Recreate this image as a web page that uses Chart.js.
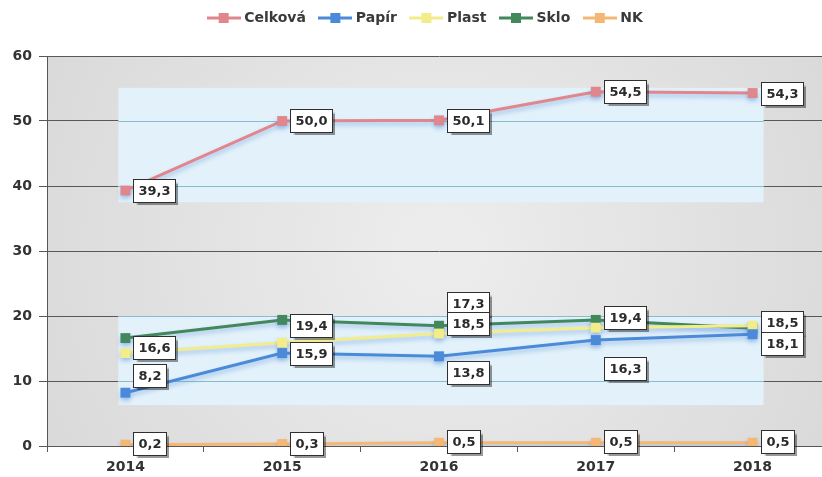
<!DOCTYPE html>
<html><head><meta charset="utf-8">
<script src="https://cdn.jsdelivr.net/npm/chart.js@4/dist/chart.umd.min.js"></script>
<style>
html,body{margin:0;padding:0;background:#fff;overflow:hidden;width:822px;height:477px}
#wrap{width:850px;height:477px;position:relative}
</style></head>
<body><div id="wrap"><canvas id="c" width="850" height="477"></canvas></div>
<script>
// ---- data ----
const years   = ['2014','2015','2016','2017','2018'];
const celkova = [39.3, 50.0, 50.1, 54.5, 54.3];
const papir   = [8.2, 14.3, 13.8, 16.3, 17.2];
const plast   = [14.3, 15.9, 17.3, 18.2, 18.5];
const sklo    = [16.6, 19.4, 18.5, 19.4, 18.1];
const nk      = [0.2, 0.3, 0.5, 0.5, 0.5];
const yTicks  = [0, 10, 20, 30, 40, 50, 60];
const seriesNames = ['Celková', 'Papír', 'Plast', 'Sklo', 'NK'];
// highlighted value ranges (decorative bands)
const bandRanges = [[37.5, 55.1], [6.3, 20]];

// ---- style ----
const colors = ['#e0868c', '#4a8ad8', '#f3ec8a', '#43875d', '#f5b874'];
const FONT = '"DejaVu Sans", sans-serif';
const GRID = '#5e5656';
// label vertical offsets in px (null = label hidden)
const labelDy = [
  [0, 0, 0, 0, 0],
  [-17, null, 16, 28, null],
  [null, 11, -30, null, -3],
  [9, 6, -2, -2, 15],
  [-1, -1, -1, -1, -1]
];
const labelOrder = [0, 1, 2, 3, 4];
const bandX = [-0.045, 4.07];

function legendIcon(color) {
  const c = document.createElement('canvas');
  c.width = 34; c.height = 12;
  const g = c.getContext('2d');
  g.strokeStyle = color; g.lineWidth = 3;
  g.beginPath(); g.moveTo(0, 6); g.lineTo(34, 6); g.stroke();
  g.fillStyle = color; g.fillRect(12, 1, 10, 10);
  return c;
}
const icons = colors.map(legendIcon);

const seriesValues = [celkova, papir, plast, sklo, nk];
const datasets = seriesValues.map((vals, i) => ({
  label: seriesNames[i],
  data: vals,
  borderColor: colors[i],
  backgroundColor: colors[i],
  pointBackgroundColor: colors[i],
  pointBorderColor: colors[i],
  pointBorderWidth: 0,
  borderWidth: 3,
  pointStyle: 'rect',
  pointRadius: 7,
  pointHoverRadius: 7,
  tension: 0,
  fill: false
}));

const fmt = v => v.toFixed(1).replace('.', ',');

const deco = {
  id: 'deco',
  beforeLayout(chart) {
    const lg = chart.legend;
    if (lg && !lg._patched) {
      const f = lg.fit;
      lg.fit = function () { f.call(this); this.height = 56; };
      const d = lg.draw;
      lg.draw = function () {
        const ctx = this.ctx;
        ctx.save(); ctx.translate(11, -5); d.call(this); ctx.restore();
      };
      lg._patched = true;
    }
  },
  beforeDraw(chart) {
    const { ctx, chartArea: a } = chart;
    ctx.save();
    const cx = (a.left + a.right) / 2, cy = (a.top + a.bottom) / 2;
    const g = ctx.createRadialGradient(cx, cy, 30, cx, cy, 470);
    g.addColorStop(0, '#ececec');
    g.addColorStop(1, '#d8d8d8');
    ctx.fillStyle = g;
    ctx.fillRect(a.left, a.top, a.right - a.left, a.bottom - a.top);
    ctx.restore();
  },
  beforeDatasetsDraw(chart) {
    const { ctx, scales: { x, y } } = chart;
    ctx.save();
    const l = x.getPixelForValue(bandX[0]), r = x.getPixelForValue(bandX[1]);
    bandRanges.forEach(([lo, hi]) => {
      const t = y.getPixelForValue(hi), b = y.getPixelForValue(lo);
      ctx.fillStyle = '#e2f1fa';
      ctx.fillRect(l, t, r - l, b - t);
      ctx.strokeStyle = '#86bccb'; ctx.lineWidth = 1;
      yTicks.forEach(v => {
        if (v > lo && v <= hi) {
          const py = Math.round(y.getPixelForValue(v)) + 0.5;
          ctx.beginPath(); ctx.moveTo(l, py); ctx.lineTo(r, py); ctx.stroke();
        }
      });
    });
    ctx.restore();
  },
  beforeDatasetDraw(chart) {
    const ctx = chart.ctx;
    ctx.save();
    ctx.shadowColor = 'rgba(70,130,210,0.4)';
    ctx.shadowBlur = 4;
    ctx.shadowOffsetY = 3;
  },
  afterDatasetDraw(chart) { chart.ctx.restore(); },
  afterDatasetsDraw(chart) {
    const ctx = chart.ctx;
    ctx.save();
    ctx.font = 'bold 13px ' + FONT;
    ctx.textBaseline = 'middle';
    labelOrder.forEach(di => {
      const meta = chart.getDatasetMeta(di);
      meta.data.forEach((pt, i) => {
        const dy = labelDy[di][i];
        if (dy === null) return;
        const txt = fmt(seriesValues[di][i]);
        const w = Math.round(ctx.measureText(txt).width) + 10, h = 23;
        const bx = Math.round(pt.x + 8) + 0.5, by = Math.round(pt.y + dy - h / 2) + 0.5;
        ctx.save();
        ctx.shadowColor = 'rgba(0,0,0,0.4)';
        ctx.shadowOffsetX = 2; ctx.shadowOffsetY = 2; ctx.shadowBlur = 1;
        ctx.fillStyle = '#ffffff';
        ctx.fillRect(bx, by, w, h);
        ctx.restore();
        ctx.strokeStyle = '#2f2f2f'; ctx.lineWidth = 1;
        ctx.strokeRect(bx, by, w, h);
        ctx.fillStyle = '#2b2b2b';
        ctx.fillText(txt, bx + 5, by + h / 2 + 1);
      });
    });
    ctx.restore();
  }
};

new Chart(document.getElementById('c'), {
  type: 'line',
  data: { labels: years, datasets },
  options: {
    responsive: false,
    animation: false,
    events: [],
    layout: { padding: { left: 0, right: 19, top: 0, bottom: 0 } },
    plugins: {
      tooltip: { enabled: false },
      legend: {
        position: 'top',
        align: 'center',
        labels: {
          usePointStyle: true,
          pointStyleWidth: 27,
          padding: 16,
          color: '#3a3a3a',
          font: { family: FONT, size: 14, weight: 'bold' },
          generateLabels: chart => chart.data.datasets.map((ds, i) => ({
            text: ds.label, fillStyle: colors[i], strokeStyle: colors[i],
            lineWidth: 0, pointStyle: icons[i], datasetIndex: i, hidden: false,
            fontColor: '#3a3a3a'
          }))
        }
      }
    },
    scales: {
      x: {
        type: 'category',
        offset: true,
        afterFit(s) { s.height = 31; },
        grid: { display: true, offset: true, drawOnChartArea: false, drawTicks: true, tickLength: 6, color: GRID },
        border: { display: true, color: GRID },
        ticks: { color: '#333', padding: 7, font: { family: FONT, size: 14, weight: 'bold' } }
      },
      y: {
        min: 0, max: 60,
        afterFit(s) { s.width = 47; },
        afterBuildTicks(s) { s.ticks = yTicks.map(v => ({ value: v })); },
        grid: { color: GRID, lineWidth: 1, tickLength: 8 },
        border: { display: true, color: GRID },
        ticks: { color: '#333', padding: 7, font: { family: FONT, size: 14, weight: 'bold' } }
      }
    }
  },
  plugins: [deco]
});
</script>
</body></html>
